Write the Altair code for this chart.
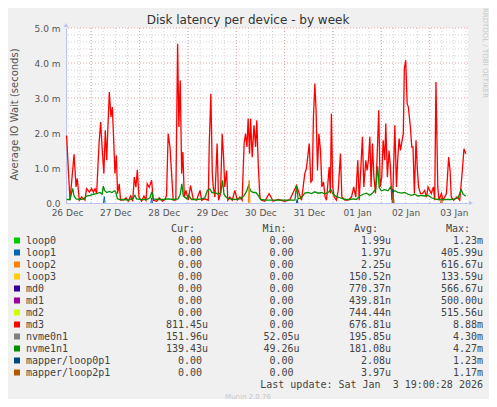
import json
import pandas as pd
import altair as alt

# time axis: hours since the left edge of the plot
start = pd.Timestamp("2025-12-26 11:30")
span_hours = 199.5

days = [(2025, 12, 26), (2025, 12, 27), (2025, 12, 28), (2025, 12, 29), (2025, 12, 30),
        (2025, 12, 31), (2026, 1, 1), (2026, 1, 2), (2026, 1, 3)]
y_ticks = [0, 1, 2, 3, 4, 5]
y_tick_labels = ["0.0", "1.0 m", "2.0 m", "3.0 m", "4.0 m", "5.0 m"]

series = ["loop0", "loop1", "loop2", "loop3", "md0", "md1", "md2", "md3",
          "nvme0n1", "nvme1n1", "mapper/loop0p1", "mapper/loop2p1"]
colors = ["#00CC00", "#0066B3", "#FF8000", "#FFCC00", "#330099", "#990099", "#CCFF00",
          "#FF0000", "#808080", "#008F00", "#00487D", "#B35A00"]

# md3 (milliseconds)
md3_hours = [0.3, 1.2, 2.0, 4.0, 5.0, 5.6, 6.6, 7.8, 9.4, 10.2, 11.6, 12.7, 13.6, 14.4, 15.2,
             16.4, 17.2, 18.0, 18.8, 19.5, 20.2, 20.8, 21.5, 22.3, 23.0, 23.6, 24.3, 25.0, 25.6,
             26.4, 27.1, 28.4, 29.8, 30.9, 32.1, 33.1, 33.9, 34.7, 35.4, 36.2, 37.5, 38.7, 39.7,
             40.3, 41.3, 42.5, 43.3, 45.0, 46.3, 47.8, 49.1, 49.9, 50.7, 51.6, 52.4, 53.2, 54.5,
             55.4, 56.0, 56.7, 57.4, 58.0, 58.7, 59.5, 60.7, 61.8, 63.1, 64.8, 66.5, 67.3, 68.9,
             70.6, 71.1, 71.9, 72.6, 73.1, 73.9, 75.0, 75.7, 76.7, 77.5, 78.2, 78.8, 79.7, 80.3,
             81.3, 82.5, 83.8, 85.0, 86.3, 87.4, 88.4, 89.1, 89.8, 90.4, 91.1, 91.6, 92.4, 93.3,
             94.1, 94.7, 95.4, 96.2, 97.0, 98.7, 100.8, 102.8, 105.3, 108.6, 111.1, 114.4, 116.9,
             118.5, 119.3, 120.7, 121.5, 122.2, 122.8, 123.5, 124.1, 124.8, 125.5, 126.3, 127.0,
             127.8, 128.6, 129.3, 130.6, 131.2, 131.7, 132.4, 133.1, 134.2, 135.1, 136.2, 136.9,
             138.4, 140.0, 141.7, 142.8, 143.8, 144.8, 145.5, 147.1, 147.8, 148.8, 149.4, 150.1,
             150.8, 151.4, 152.1, 152.8, 153.6, 154.4, 155.2, 155.9, 156.7, 157.4, 158.2, 158.7,
             159.5, 160.3, 161.0, 161.7, 162.3, 163.2, 164.0, 164.6, 165.3, 166.0, 166.8, 167.4,
             167.9, 168.6, 169.3, 169.9, 170.9, 171.6, 172.2, 172.9, 173.7, 174.4, 175.0, 175.9,
             176.9, 178.0, 178.9, 179.7, 180.5, 181.3, 182.3, 183.0, 183.6, 184.5, 185.1, 186.3,
             187.1, 188.8, 189.9, 190.6, 191.2, 192.4, 194.0, 195.4, 196.7, 197.5, 198.4]
md3_vals = [1.93, 0.9, 0.08, 1.39, 0.46, 0.7, 0.08, 0.17, 0.08, 0.41, 0.31, 0.41, 0.31, 0.41, 0.27,
            1.7, 2.31, 1.5, 0.84, 2.08, 1.22, 2.17, 3.17, 2.46, 2.74, 1.89, 0.84, 1.36, 0.27,
            0.55, 0.08, 0.08, 0.15, 0.05, 0.2, 0.05, 0.74, 0.45, 0.95, 0.17, 0.05, 0.2, 0.08,
            0.55, 0.45, 0.65, 0.08, 0.05, 0.15, 0.05, 0.1, 0.22, 1.98, 1.6, 0.84, 0.08, 0.08,
            4.55, 2.17, 3.5, 0.84, 1.46, 0.17, 0.36, 0.08, 0.5, 0.12, 0.08, 0.36, 0.08, 0.12,
            0.08, 1.7, 3.12, 0.84, 0.46, 0.17, 1.7, 0.08, 0.27, 1.98, 1.31, 0.46, 0.93, 0.08,
            0.17, 0.08, 0.36, 0.08, 0.17, 0.08, 1.7, 1.98, 1.6, 2.41, 1.41, 2.41, 1.31, 2.22,
            1.6, 2.36, 1.12, 0.17, 0.08, 0.05, 0.27, 0.05, 0.1, 0.05, 0.1, 0.5, 0.08,
            0.84, 0.98, 1.7, 0.6, 0.65, 2.46, 3.41, 2.65, 0.93, 1.98, 1.5, 0.46,
            0.6, 0.17, 0.08, 1.03, 0.27, 2.55, 0.46, 0.17, 0.08, 0.36, 1.41, 0.17,
            0.08, 0.08, 0.17, 0.46, 0.17, 1.22, 0.08, 1.89, 0.46, 1.22, 0.93, 1.22,
            1.89, 0.46, 1.7, 0.74, 0.27, 1.31, 2.65, 0.46, 0.74, 1.79, 1.22, 2.27,
            0.74, 1.5, 1.03, 0.08, 0.46, 2.22, 0.46, 1.22, 1.84, 1.5, 1.79, 1.98,
            3.84, 4.08, 2.84, 2.74, 2.17, 1.6, 1.6, 0.27, 1.79, 0.93, 0.46, 0.27,
            0.27, 0.36, 0.17, 0.46, 0.36, 0.27, 0.46, 0.08, 3.46, 0.46, 0.08, 0.27,
            0.08, 0.27, 1.31, 0.93, 0.17, 0.08, 0.17, 0.08, 0.93, 1.55, 1.41]

# nvme1n1 (milliseconds)
nvme1_hours = [0.3, 2.0, 2.8, 3.3, 4.0, 5.0, 6.9, 8.9, 10.2, 11.9, 13.6, 15.2, 16.9, 17.9, 18.5,
               19.2, 20.2, 21.5, 22.8, 24.1, 24.8, 25.5, 26.8, 28.8, 30.9, 33.1, 34.2, 35.0, 37.5,
               40.0, 41.7, 42.6, 43.3, 45.8, 48.3, 50.7, 53.2, 55.7, 56.7, 57.5, 58.2, 59.8, 60.8,
               62.3, 64.8, 67.3, 68.9, 70.1, 71.4, 72.4, 73.9, 75.5, 76.8, 77.7, 78.4, 79.7, 81.3,
               83.8, 86.3, 88.2, 89.6, 90.6, 91.6, 92.9, 94.2, 95.4, 96.5, 99.5, 104.4, 109.4,
               113.6, 114.4, 115.2, 116.9, 118.5, 120.2, 121.8, 123.5, 125.1, 126.8, 128.4, 130.1,
               131.4, 132.6, 134.2, 135.9, 137.5, 139.2, 140.8, 142.5, 144.1, 145.8, 147.5, 149.1,
               150.8, 152.4, 153.7, 154.7, 155.4, 156.5, 158.2, 159.8, 161.0, 162.0, 163.2, 164.8,
               166.5, 168.1, 169.8, 171.4, 173.1, 174.7, 176.4, 178.0, 179.7, 181.3, 183.0, 184.6,
               186.3, 187.9, 189.6, 191.2, 192.9, 194.6, 196.1, 197.1, 198.4]
nvme1_vals = [0.1, 0.1, 0.3, 0.42, 0.2, 0.12, 0.1, 0.12, 0.2, 0.22, 0.25, 0.27, 0.3, 0.25, 0.48,
              0.35, 0.3, 0.33, 0.3, 0.35, 0.3, 0.12, 0.1, 0.1, 0.08, 0.12, 0.22, 0.12, 0.1,
              0.1, 0.15, 0.32, 0.12, 0.1, 0.1, 0.12, 0.1, 0.12, 0.25, 0.55, 0.2, 0.12, 0.22,
              0.1, 0.1, 0.12, 0.15, 0.35, 0.4, 0.3, 0.3, 0.25, 0.3, 0.65, 0.25, 0.15, 0.12,
              0.1, 0.12, 0.2, 0.33, 0.5, 0.35, 0.3, 0.3, 0.22, 0.1, 0.08, 0.08, 0.08,
              0.08, 0.5, 0.12, 0.15, 0.28, 0.3, 0.27, 0.32, 0.28, 0.3, 0.26, 0.3,
              0.38, 0.25, 0.18, 0.15, 0.12, 0.1, 0.1, 0.12, 0.1, 0.2, 0.25, 0.28,
              0.22, 0.3, 0.4, 1.05, 0.45, 0.35, 0.38, 0.35, 0.45, 0.3, 0.35, 0.3,
              0.28, 0.3, 0.25, 0.22, 0.25, 0.2, 0.22, 0.2, 0.22, 0.15, 0.12, 0.1,
              0.1, 0.1, 0.1, 0.1, 0.12, 0.15, 0.38, 0.25, 0.2]

# small spikes of the other devices
loop1_hours = [18.6, 19.0, 19.4, 42.1, 42.5, 42.9]
loop1_vals = [0.0, 0.18, 0.0, 0.0, 0.15, 0.0]
loop2_hours = [90.5, 90.9, 91.3]
loop2_vals = [0.0, 0.65, 0.0]
mapper0_hours = [114.3, 114.7, 115.1, 161.9, 162.3, 162.7]
mapper0_vals = [0.0, 0.1, 0.0, 0.0, 0.4, 0.0]
mapper2_hours = [161.9, 162.3, 162.7, 185.9, 186.3, 186.7]
mapper2_vals = [0.0, 0.3, 0.0, 0.0, 0.15, 0.0]

# legend table
cur = ["0.00", "0.00", "0.00", "0.00", "0.00", "0.00", "0.00", "811.45u", "151.96u", "139.43u", "0.00", "0.00"]
mins = ["0.00", "0.00", "0.00", "0.00", "0.00", "0.00", "0.00", "0.00", "52.05u", "49.26u", "0.00", "0.00"]
avgs = ["1.99u", "1.97u", "2.25u", "150.52n", "770.37n", "439.81n", "744.44n", "676.81u", "195.85u",
        "181.08u", "2.08u", "3.97u"]
maxs = ["1.23m", "405.99u", "616.67u", "133.59u", "566.67u", "500.00u", "515.56u", "8.88m", "4.30m",
        "4.27m", "1.23m", "1.17m"]
last_update = "Last update: Sat Jan\u00a0 3 19:00:28 2026"


def frame(name, hours, vals, group=None):
    d = pd.DataFrame({"hours": hours, "value": vals})
    d["time"] = start + pd.to_timedelta(d["hours"], unit="h")
    d["series"] = name
    d["seg"] = group if group is not None else 0
    return d


def dt(ts):
    return alt.DateTime(year=ts.year, month=ts.month, date=ts.day, hours=ts.hour, minutes=ts.minute)


end = start + pd.Timedelta(hours=span_hours)
xscale = alt.Scale(domain=[dt(start), dt(end)])
yscale = alt.Scale(domain=[0, 5], nice=False)
cscale = alt.Scale(domain=series, range=colors)

W, H = 402, 175
FONT = "DejaVu Sans"
MONO = "DejaVu Sans Mono"

xaxis = alt.Axis(values=[alt.DateTime(year=y, month=m, date=d, hours=12) for y, m, d in days],
                 format="%d %b", title=None, grid=False, ticks=False, domainColor="#B8C4F4",
                 labelFont=FONT, labelFontSize=9, labelColor="#555555", labelPadding=5,
                 labelOverlap=False)
yaxis = alt.Axis(values=y_ticks, tickCount=6, labelExpr=json.dumps(y_tick_labels) + "[round(datum.value)]",
                 title="Average IO Wait (seconds)", grid=False, ticks=False, domainColor="#B8C4F4",
                 labelFont=FONT, labelFontSize=9, labelColor="#555555", labelPadding=6,
                 labelOverlap=False,
                 titleFont=FONT, titleFontSize=10, titleFontWeight="normal", titleColor="#555555",
                 titleX=-52, titleY=86, titleAlign="center", titleBaseline="middle")

# grid
minor_x = pd.DataFrame({"time": pd.date_range("2025-12-26 12:00", "2026-01-03 18:00", freq="6h")})
major_x = pd.DataFrame({"time": pd.date_range("2025-12-27", "2026-01-03", freq="D")})
minor_y = pd.DataFrame({"value": [0.2, 0.4, 0.6, 0.8, 1.2, 1.4, 1.6, 1.8, 2.2, 2.4, 2.6, 2.8,
                                  3.2, 3.4, 3.6, 3.8, 4.2, 4.4, 4.6, 4.8]})
major_y = pd.DataFrame({"value": [1, 2, 3, 4, 5]})

gx_minor = alt.Chart(minor_x).mark_rule(color="#D0D0D0", strokeDash=[1, 2], strokeWidth=1).encode(
    x=alt.X("time:T", scale=xscale, axis=xaxis))
gy_minor = alt.Chart(minor_y).mark_rule(color="#D0D0D0", strokeDash=[1, 2], strokeWidth=1).encode(
    y=alt.Y("value:Q", scale=yscale, axis=yaxis))
gx_major = alt.Chart(major_x).mark_rule(color="#F0A0A0", strokeDash=[1, 2], strokeWidth=1).encode(
    x=alt.X("time:T", scale=xscale))
gy_major = alt.Chart(major_y).mark_rule(color="#F0A0A0", strokeDash=[1, 2], strokeWidth=1).encode(
    y=alt.Y("value:Q", scale=yscale))


def line(d, width=1.0):
    return alt.Chart(d).mark_line(strokeWidth=width, interpolate="linear").encode(
        x=alt.X("time:T", scale=xscale),
        y=alt.Y("value:Q", scale=yscale),
        color=alt.Color("series:N", scale=cscale, legend=None),
        detail="seg:N",
    )


md3 = line(frame("md3", md3_hours, md3_vals), 1.3)
nvme1 = line(frame("nvme1n1", nvme1_hours, nvme1_vals), 1.3)
spikes = line(pd.concat([
    frame("loop1", loop1_hours[:3], loop1_vals[:3], 1), frame("loop1", loop1_hours[3:], loop1_vals[3:], 2),
    frame("loop2", loop2_hours, loop2_vals, 3),
    frame("mapper/loop0p1", mapper0_hours[:3], mapper0_vals[:3], 4),
    frame("mapper/loop0p1", mapper0_hours[3:], mapper0_vals[3:], 5),
    frame("mapper/loop2p1", mapper2_hours[:3], mapper2_vals[:3], 6),
    frame("mapper/loop2p1", mapper2_hours[3:], mapper2_vals[3:], 7),
]))

arrows = alt.Chart(pd.DataFrame({"k": [0]})).mark_point(filled=True, color="#B8C4F4", size=22, opacity=1)
arrow_r = arrows.encode(x=alt.value(W + 3), y=alt.value(H), shape=alt.value("triangle-right"))
arrow_u = arrows.encode(x=alt.value(0), y=alt.value(-3), shape=alt.value("triangle-up"))

title = alt.Chart(pd.DataFrame({"t": ["Disk latency per device - by week"]})).mark_text(
    font=FONT, fontSize=12, color="#333333", align="center", baseline="alphabetic").encode(
    text="t:N", x=alt.value(182), y=alt.value(-4.5))
rrd = alt.Chart(pd.DataFrame({"t": ["RRDTOOL / TOBI OETIKER"]})).mark_text(
    font=FONT, fontSize=7, color="#C8C8C8", angle=90, align="center", baseline="middle").encode(
    text="t:N", x=alt.value(419), y=alt.value(25))

plot = alt.layer(gx_minor, gy_minor, gx_major, gy_major, md3, nvme1, spikes,
                 arrow_r, arrow_u, title, rrd)

# legend block below the plot
leg = pd.DataFrame({"series": series, "row": list(range(1, 13)),
                    "cur": cur, "min": mins, "avg": avgs, "max": maxs})
rows = alt.Scale(type="point", domain=list(range(15)), range=[200.5, 368.5], padding=0)
ry = alt.Y("row:O", scale=rows, axis=None)

legend_layers = [
    alt.Chart(leg).mark_square(size=36, opacity=1).encode(
        x=alt.value(-49), y=ry, color=alt.Color("series:N", scale=cscale, legend=None)),
    alt.Chart(leg).mark_text(font=MONO, fontSize=10, color="#444444", align="left", baseline="middle").encode(
        x=alt.value(-40), y=ry, text="series:N"),
]
col_right = {"cur": 136, "min": 227.5, "avg": 319, "max": 411}
headers = {"cur": "Cur:", "min": "Min:", "avg": "Avg:", "max": "Max:"}
for col, xr in col_right.items():
    parts = leg[col].str.extract(r"^([\d.]+)([a-z]?)$")
    d = pd.DataFrame({"row": leg["row"], "num": parts[0], "unit": parts[1]})
    legend_layers.append(alt.Chart(d).mark_text(
        font=MONO, fontSize=10, color="#444444", align="right", baseline="middle").encode(
        x=alt.value(xr), y=ry, text="num:N"))
    legend_layers.append(alt.Chart(d).mark_text(
        font=MONO, fontSize=10, color="#444444", align="left", baseline="middle").encode(
        x=alt.value(xr), y=ry, text="unit:N"))
    legend_layers.append(alt.Chart(pd.DataFrame({"row": [0], "t": [headers[col]]})).mark_text(
        font=MONO, fontSize=10, color="#444444", align="right", baseline="middle").encode(
        x=alt.value(xr - 7), y=ry, text="t:N"))
legend_layers.append(alt.Chart(pd.DataFrame({"row": [13], "t": [last_update]})).mark_text(
    font=MONO, fontSize=10, color="#444444", align="right", baseline="middle").encode(
    x=alt.value(417), y=ry, text="t:N"))
legend_layers.append(alt.Chart(pd.DataFrame({"row": [14], "t": ["Munin 2.0.76"]})).mark_text(
    font=FONT, fontSize=7, color="#C8C8C8", align="center", baseline="middle").encode(
    x=alt.value(182), y=ry, text="t:N"))

legend = alt.layer(*legend_layers)

chart = alt.layer(plot, legend).resolve_scale(y="independent").properties(
    width=W, height=H,
    autosize=alt.AutoSizeParams(type="none"),
    padding={"left": 58, "top": 20, "right": 21, "bottom": 196},
    background="#F0F0F0",
).configure_view(fill="white", stroke=None).configure_axis(labelOverlap=False)

chart.save("out.html", embed_options={"renderer": "svg", "actions": False})
